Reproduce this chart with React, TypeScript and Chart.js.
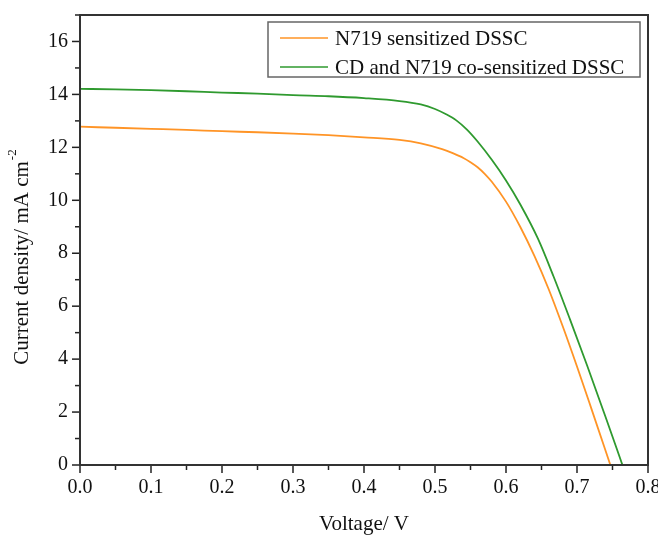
import { useEffect, useRef } from "react";
import { Chart, registerables } from "chart.js";

Chart.register(...registerables);

// J–V curves of the two solar cells (voltage in V, current density in mA cm^-2)
const n719Voltage = [0, 0.05, 0.1, 0.15, 0.2, 0.25, 0.3, 0.35, 0.4, 0.45, 0.48, 0.51, 0.525, 0.54, 0.55, 0.56, 0.57, 0.58, 0.6, 0.62, 0.64, 0.66, 0.68, 0.7, 0.72, 0.747];
const n719Current = [12.78, 12.74, 12.7, 12.66, 12.61, 12.57, 12.52, 12.46, 12.38, 12.28, 12.15, 11.93, 11.78, 11.6, 11.44, 11.25, 11.0, 10.7, 9.95, 9.0, 7.9, 6.65, 5.23, 3.72, 2.15, 0];

const cdVoltage = [0, 0.05, 0.1, 0.15, 0.2, 0.25, 0.3, 0.35, 0.4, 0.45, 0.48, 0.5, 0.515, 0.53, 0.545, 0.56, 0.58, 0.6, 0.62, 0.645, 0.667, 0.69, 0.714, 0.74, 0.764];
const cdCurrent = [14.21, 14.19, 14.16, 14.12, 14.07, 14.03, 13.97, 13.93, 13.86, 13.75, 13.62, 13.45, 13.26, 13.02, 12.67, 12.22, 11.53, 10.75, 9.85, 8.55, 7.12, 5.51, 3.78, 1.83, 0];

const seriesLabels = ["N719 sensitized DSSC", "CD and N719 co-sensitized DSSC"];
const seriesColors = ["#ff9426", "#2f9a2f"];

const xTitle = "Voltage/ V";
const yTitle = "Current density/ mA cm";
const yTitleSup = "-2";

const FONT = '"Liberation Serif", "Times New Roman", serif';

const toPoints = (xs: number[], ys: number[]) => xs.map((x, i) => ({ x, y: ys[i] }));

const decorPlugin = {
  id: "decor",
  afterDraw(chart: any) {
    const { ctx, chartArea: a, scales } = chart;
    const xs = scales.x;
    const ys = scales.y;
    ctx.save();

    // outward tick marks, long on labelled values, short in between
    ctx.strokeStyle = "#222";
    ctx.lineWidth = 1.5;
    for (let i = 0; i <= 16; i++) {
      const px = xs.getPixelForValue(i * 0.05);
      const len = i % 2 === 0 ? 8 : 5;
      ctx.beginPath();
      ctx.moveTo(px, a.bottom);
      ctx.lineTo(px, a.bottom + len);
      ctx.stroke();
    }
    for (let v = 0; v <= 17; v++) {
      const py = ys.getPixelForValue(v);
      const len = v % 2 === 0 ? 8 : 5;
      ctx.beginPath();
      ctx.moveTo(a.left, py);
      ctx.lineTo(a.left - len, py);
      ctx.stroke();
    }

    // frame around the plot area
    ctx.strokeStyle = "#333";
    ctx.lineWidth = 2;
    ctx.strokeRect(a.left, a.top, a.right - a.left, a.bottom - a.top);

    // axis titles
    ctx.fillStyle = "#111";
    ctx.font = `21px ${FONT}`;
    ctx.textAlign = "center";
    ctx.textBaseline = "middle";
    ctx.fillText(xTitle, (a.left + a.right) / 2, 524);

    ctx.save();
    ctx.translate(22, 257);
    ctx.rotate(-Math.PI / 2);
    ctx.font = `21px ${FONT}`;
    const mainW = ctx.measureText(yTitle).width;
    ctx.font = `13px ${FONT}`;
    const supW = ctx.measureText(yTitleSup).width;
    const total = mainW + supW + 1;
    ctx.textAlign = "left";
    ctx.font = `21px ${FONT}`;
    ctx.fillText(yTitle, -total / 2, 0);
    ctx.font = `13px ${FONT}`;
    ctx.fillText(yTitleSup, -total / 2 + mainW + 1, -9);
    ctx.restore();

    // legend box in the upper right corner
    const boxL = a.right - 380;
    const boxT = a.top + 7;
    const boxW = 372;
    const boxH = 55;
    ctx.fillStyle = "#fff";
    ctx.fillRect(boxL, boxT, boxW, boxH);
    ctx.strokeStyle = "#666";
    ctx.lineWidth = 1.5;
    ctx.strokeRect(boxL, boxT, boxW, boxH);
    ctx.font = `21px ${FONT}`;
    ctx.textAlign = "left";
    ctx.textBaseline = "middle";
    seriesLabels.forEach((label, i) => {
      const cy = boxT + 16 + i * 29;
      ctx.strokeStyle = seriesColors[i];
      ctx.lineWidth = 1.5;
      ctx.beginPath();
      ctx.moveTo(boxL + 12, cy);
      ctx.lineTo(boxL + 60, cy);
      ctx.stroke();
      ctx.fillStyle = "#111";
      ctx.fillText(label, boxL + 67, cy + 1);
    });

    ctx.restore();
  },
};

export default function App() {
  const canvasRef = useRef<HTMLCanvasElement | null>(null);

  useEffect(() => {
    document.body.style.margin = "0";
    const canvas = canvasRef.current;
    if (!canvas) return;
    const chart = new Chart(canvas, {
      type: "scatter",
      data: {
        datasets: [
          {
            label: seriesLabels[0],
            data: toPoints(n719Voltage, n719Current),
            showLine: true,
            borderColor: seriesColors[0],
            borderWidth: 1.8,
            pointRadius: 0,
            cubicInterpolationMode: "monotone",
          },
          {
            label: seriesLabels[1],
            data: toPoints(cdVoltage, cdCurrent),
            showLine: true,
            borderColor: seriesColors[1],
            borderWidth: 1.8,
            pointRadius: 0,
            cubicInterpolationMode: "monotone",
          },
        ],
      },
      options: {
        animation: false,
        responsive: false,
        events: [],
        layout: { padding: { top: 15, right: 10, left: 0, bottom: 0 } },
        plugins: { legend: { display: false }, tooltip: { enabled: false } },
        scales: {
          x: {
            type: "linear",
            min: 0,
            max: 0.8,
            grid: { display: false, drawTicks: false },
            border: { display: false },
            ticks: {
              stepSize: 0.05,
              autoSkip: false,
              maxRotation: 0,
              padding: 11,
              color: "#111",
              font: { family: FONT, size: 20 },
              callback: (v: any) => {
                const n = Math.round(Number(v) * 100);
                return n % 10 === 0 ? (n / 100).toFixed(1) : "";
              },
            },
            afterFit: (s: any) => {
              s.height = 71;
              s.paddingLeft = 0;
              s.paddingRight = 0;
            },
          },
          y: {
            type: "linear",
            min: 0,
            max: 17,
            grid: { display: false, drawTicks: false },
            border: { display: false },
            ticks: {
              stepSize: 1,
              autoSkip: false,
              padding: 12,
              color: "#111",
              font: { family: FONT, size: 20 },
              callback: (v: any) => (Number(v) % 2 === 0 ? String(v) : ""),
            },
            afterFit: (s: any) => {
              s.width = 80;
              s.paddingTop = 0;
              s.paddingBottom = 0;
            },
          },
        },
      },
      plugins: [decorPlugin],
    });
    return () => chart.destroy();
  }, []);

  return (
    <div style={{ position: "fixed", left: 0, top: 0, width: 658, height: 536, background: "#fff" }}>
      <canvas ref={canvasRef} width={658} height={536} style={{ width: 658, height: 536 }} />
    </div>
  );
}
